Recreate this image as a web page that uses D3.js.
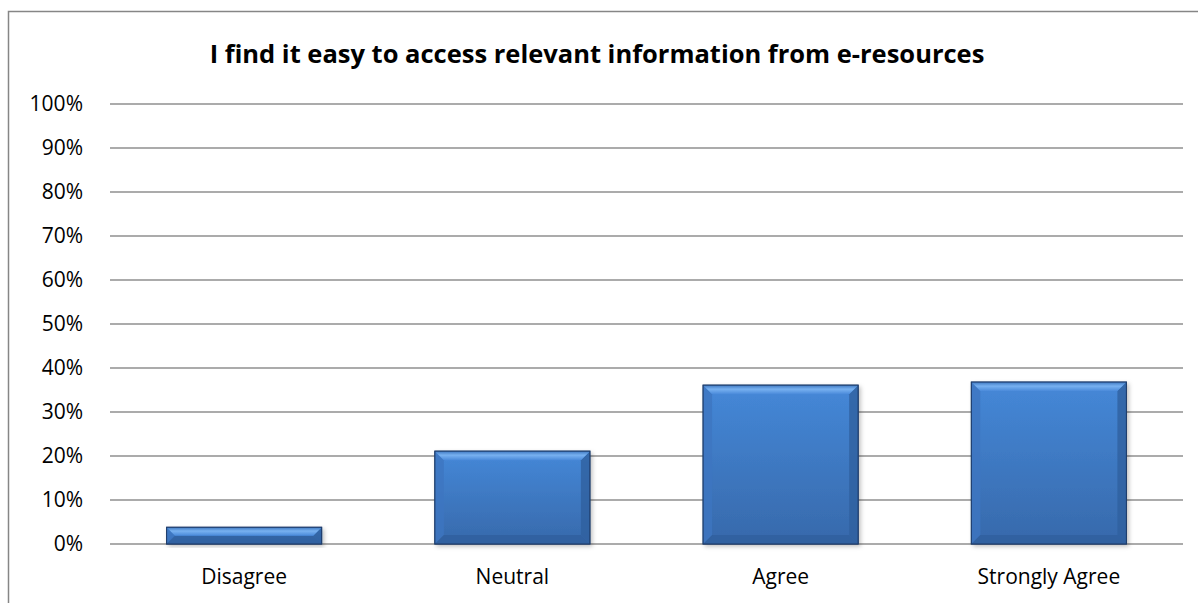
<!DOCTYPE html>
<html><head><meta charset="utf-8">
<script src="https://cdn.jsdelivr.net/npm/d3@7"></script>
<style>
html,body{margin:0;padding:0;background:#fff;}
svg{display:block;}
text{font-family:"Open Sans","Liberation Sans",sans-serif;fill:#000;}
</style></head><body>
<svg id="chart" width="1198" height="603"></svg>
<script>
const categories = ["Disagree", "Neutral", "Agree", "Strongly Agree"];
const values = [0.038, 0.211, 0.361, 0.368];
const tickValues = [0, 0.1, 0.2, 0.3, 0.4, 0.5, 0.6, 0.7, 0.8, 0.9, 1.0];
const title = "I find it easy to access relevant information from e-resources";

const svg = d3.select("#chart");
const W = 1198, H = 603;
const m = {left: 110, right: 15, top: 104, bottom: 59};

// outer frame
svg.append("rect").attr("x", 8.5).attr("y", 11.5).attr("width", 1300).attr("height", 700)
  .attr("fill", "none").attr("stroke", "#868686").attr("stroke-width", 1.5);

const x = d3.scaleBand().domain(categories).range([m.left, W - m.right]).paddingInner(0.422).paddingOuter(0.211);
const y = d3.scaleLinear().domain([0, 1]).range([H - m.bottom, m.top]);

const defs = svg.append("defs");
const g1 = defs.append("linearGradient").attr("id", "barFill").attr("x1", 0).attr("y1", 0).attr("x2", 0).attr("y2", 1);
g1.append("stop").attr("offset", "0%").attr("stop-color", "#4588d8");
g1.append("stop").attr("offset", "100%").attr("stop-color", "#3769ab");
const g2 = defs.append("linearGradient").attr("id", "topBevel").attr("x1", 0).attr("y1", 0).attr("x2", 0).attr("y2", 1);
g2.append("stop").attr("offset", "0%").attr("stop-color", "#3f79c2");
g2.append("stop").attr("offset", "45%").attr("stop-color", "#78b1f0");
g2.append("stop").attr("offset", "100%").attr("stop-color", "#4a8ada");
const f = defs.append("filter").attr("id", "shadow").attr("x", "-10%").attr("y", "-10%").attr("width", "125%").attr("height", "130%");
f.append("feDropShadow").attr("dx", 2).attr("dy", 2).attr("stdDeviation", 2).attr("flood-color", "#000").attr("flood-opacity", 0.25);

// gridlines
svg.append("g").selectAll("line").data(tickValues).join("line")
  .attr("x1", m.left).attr("x2", W - m.right)
  .attr("y1", d => y(d)).attr("y2", d => y(d))
  .attr("stroke", "#8f8f8f").attr("stroke-width", 1.5);

// y axis labels
const yAxis = d3.axisLeft(y).tickValues(tickValues).tickFormat(d3.format(".0%")).tickSize(0).tickPadding(27);
const ya = svg.append("g").attr("transform", `translate(${m.left},0)`).call(yAxis);
ya.select(".domain").remove();
ya.selectAll("text").attr("font-size", 21).attr("font-family", "'Open Sans', sans-serif").attr("fill", "#000");

// x axis labels
const xAxis = d3.axisBottom(x).tickSize(0).tickPadding(25);
const xa = svg.append("g").attr("transform", `translate(0,${y(0)})`).call(xAxis);
xa.select(".domain").remove();
xa.selectAll("text").attr("font-size", 21).attr("font-family", "'Open Sans', sans-serif").attr("fill", "#000");

// bars
const bars = svg.append("g").selectAll("g").data(categories.map((c, i) => ({c, v: values[i]}))).join("g");
bars.append("rect")
  .attr("x", d => x(d.c)).attr("y", d => y(d.v))
  .attr("width", x.bandwidth()).attr("height", d => y(0) - y(d.v))
  .attr("fill", "url(#barFill)").attr("stroke", "#1f3d6b").attr("stroke-width", 1)
  .attr("filter", "url(#shadow)");
bars.each(function(d) {
  const gEl = d3.select(this);
  const x0 = x(d.c), x1 = x0 + x.bandwidth(), yt = y(d.v), yb = y(0);
  const b = Math.min(9, (yb - yt) / 2);
  gEl.append("path").attr("d", `M${x0},${yt}L${x0+b},${yt+b}L${x0+b},${yb-b}L${x0},${yb}Z`).attr("fill", "#3d76c0").attr("opacity", 0.8);
  gEl.append("path").attr("d", `M${x1},${yt}L${x1-b},${yt+b}L${x1-b},${yb-b}L${x1},${yb}Z`).attr("fill", "#30609f").attr("opacity", 0.8);
  gEl.append("path").attr("d", `M${x0},${yb}L${x0+b},${yb-b}L${x1-b},${yb-b}L${x1},${yb}Z`).attr("fill", "#2f5f9e").attr("opacity", 0.8);
  gEl.append("path").attr("d", `M${x0},${yt}L${x1},${yt}L${x1-b},${yt+b}L${x0+b},${yt+b}Z`).attr("fill", "url(#topBevel)");
  gEl.append("rect").attr("x", x0).attr("y", yt).attr("width", x1 - x0).attr("height", yb - yt)
    .attr("fill", "none").attr("stroke", "#1f3d6b").attr("stroke-width", 1);
});

// title
svg.append("text").attr("x", 597).attr("y", 63).attr("text-anchor", "middle")
  .attr("font-size", 25.5).attr("font-weight", "bold").attr("font-family", "'Open Sans', sans-serif")
  .text(title);
</script>
</body></html>
